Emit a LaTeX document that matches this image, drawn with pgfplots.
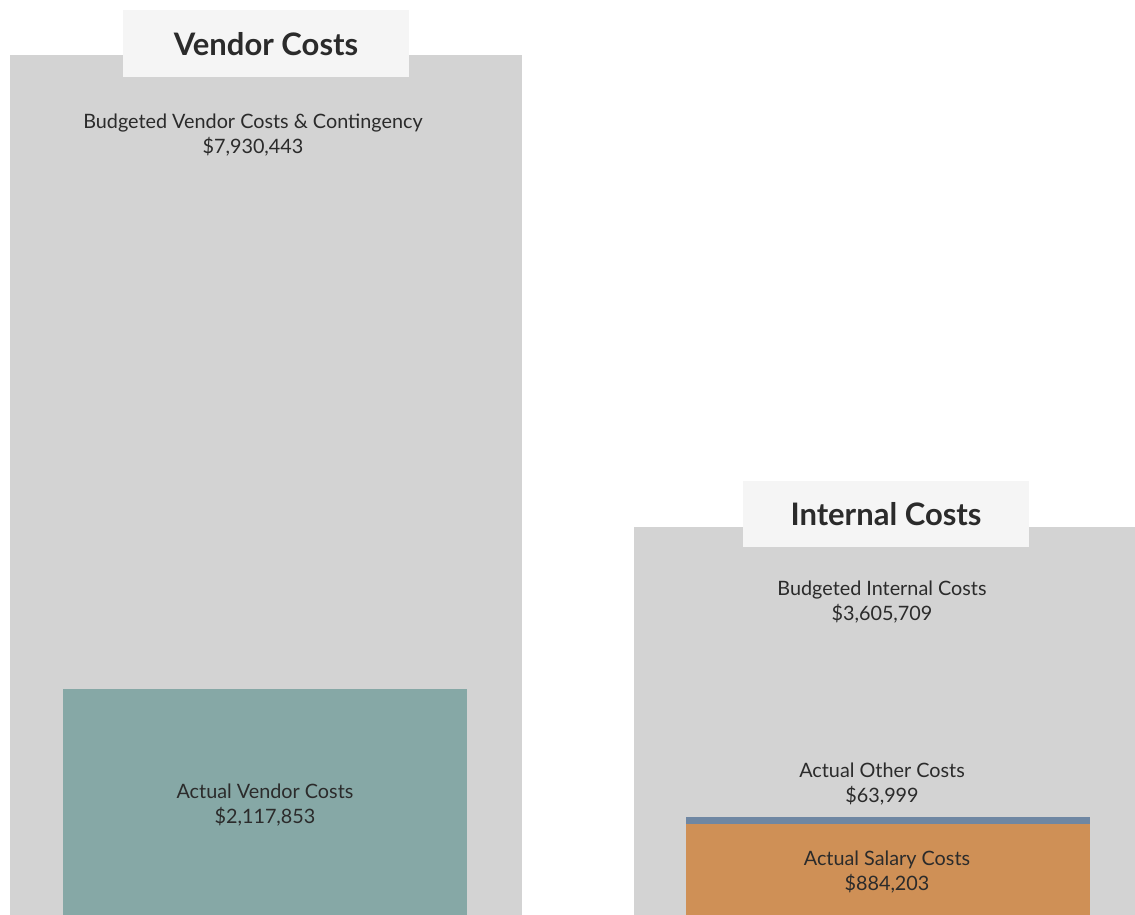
\documentclass[border=0pt]{standalone}
\usepackage{pgfplots}
\pgfplotsset{compat=1.18}
\usepackage{fontspec}
\setmainfont{Lato}
\definecolor{budgrey}{HTML}{D3D3D3}
\definecolor{vendteal}{HTML}{86A8A6}
\definecolor{salorange}{HTML}{CF9056}
\definecolor{othblue}{HTML}{6F87A3}
\definecolor{boxwhite}{HTML}{F5F5F5}
\definecolor{txt}{HTML}{2B2B2B}
\begin{document}
\begin{tikzpicture}
\begin{axis}[
  scale only axis, width=1135pt, height=915pt,
  xmin=0, xmax=1135, ymin=45840, ymax=8434560,
  hide axis, clip=true,
]
\path (rel axis cs:0,0) rectangle (rel axis cs:1,1);
% Budgeted vendor
\addplot[fill=budgrey, draw=none] coordinates {(10,0) (10,7930443) (522,7930443) (522,0)} -- cycle;
% Actual vendor
\addplot[fill=vendteal, draw=none] coordinates {(63,0) (63,2117853) (467,2117853) (467,0)} -- cycle;
% Budgeted internal
\addplot[fill=budgrey, draw=none] coordinates {(634,0) (634,3605709) (1146,3605709) (1146,0)} -- cycle;
% Actual salary
\addplot[fill=salorange, draw=none] coordinates {(686,0) (686,884203) (1090,884203) (1090,0)} -- cycle;
% Actual other (stacked)
\addplot[fill=othblue, draw=none] coordinates {(686,884203) (686,948202) (1090,948202) (1090,884203)} -- cycle;

% title boxes
\fill[boxwhite] (axis cs:123,8342880) rectangle (axis cs:409,7728624);
\fill[boxwhite] (axis cs:743,4024752) rectangle (axis cs:1029,3419664);

\node[font=\fontsize{31}{33}\selectfont\bfseries, text=txt] at (axis cs:266,8031168) {Vendor Costs};
\node[font=\fontsize{31}{33}\selectfont\bfseries, text=txt] at (axis cs:886,3722208) {Internal Costs};

\tikzset{lab/.style={font=\fontsize{19.8}{25}\selectfont, text=txt, align=center}}
\node[lab] at (axis cs:253,7192296) {Budgeted Vendor Costs \& Contingency\\\$7,930,443};
\node[lab] at (axis cs:265,1049736) {Actual Vendor Costs\\\$2,117,853};
\node[lab] at (axis cs:882,2910840) {Budgeted Internal Costs\\\$3,605,709};
\node[lab] at (axis cs:882,1246848) {Actual Other Costs\\\$63,999};
\node[lab] at (axis cs:887,435480) {Actual Salary Costs\\\$884,203};
\end{axis}
\end{tikzpicture}
\end{document}
